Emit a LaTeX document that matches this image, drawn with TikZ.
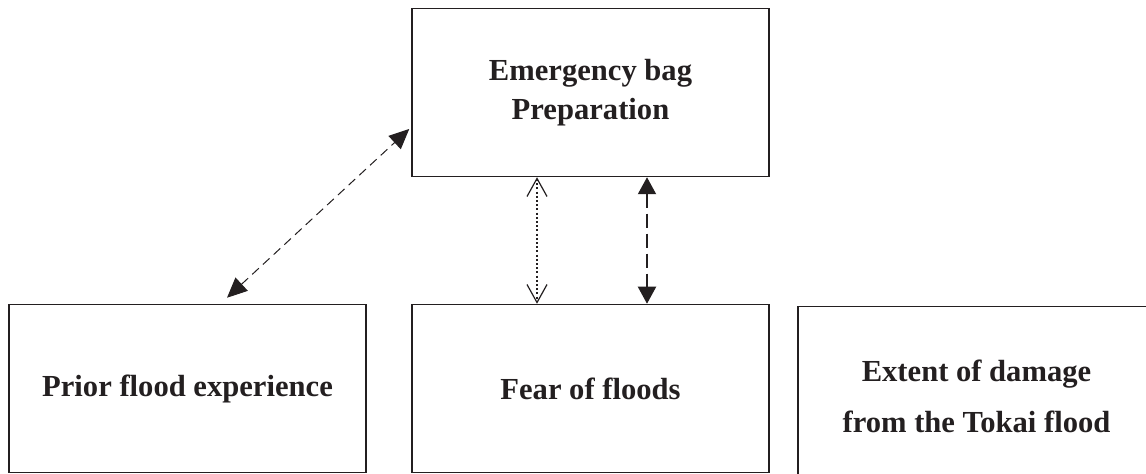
\documentclass[tikz,border=0pt]{standalone}
\usepackage{fontspec}
\setmainfont{Liberation Serif}
\usepackage{tikz}
\usetikzlibrary{arrows.meta,calc,positioning}

\definecolor{ink}{RGB}{35,31,32}

\begin{document}
\begin{tikzpicture}[node distance=150pt,on grid,
    block/.style={draw=ink,line width=0.75pt,rectangle,minimum width=178.5pt,
      minimum height=84pt,align=center,text=ink,
      font=\fontsize{15.3}{19.5}\selectfont\bfseries},
    twoway/.style={ink,line width=0.5pt,dash pattern=on 4.5pt off 2.8pt,
      {Triangle[length=10pt,width=9pt]}-{Triangle[length=10pt,width=9pt]}},
    dotlink/.style={ink,line width=0.6pt,dash pattern=on 1pt off 1.1pt,
      {Straight Barb[length=9pt,width=10pt]}-{Straight Barb[length=9pt,width=10pt]}},
    dashlink/.style={ink,line width=1pt,dash pattern=on 7pt off 3pt,
      {Triangle[length=8.5pt,width=9pt]}-{Triangle[length=8.5pt,width=9pt]}}]
      \useasboundingbox (0,0) rectangle (573pt,-237pt);
      \clip (0,0) rectangle (573pt,-237pt);

      \node[block] (prep) at (295.25pt,-46.25pt) {Emergency bag\\Preparation};
      \node[block] (fear) [below= 148pt of prep] {Fear of floods};
      \node[block] (prior) [left= 201.5pt of fear] {Prior flood experience};
      \node[block,anchor=north,minimum height=90pt] (damage)
        at ([xshift=193pt,yshift=-1pt]fear.north)
        {Extent of damage\\[6pt]from the Tokai flood};

      \draw[twoway] ([xshift=19.75pt,yshift=3pt]prior.north)
        -- ([xshift=-1pt,yshift=-18.25pt]prep.west);
      \draw[dotlink] ([xshift=-26.75pt]prep.south) -- ([xshift=-26.75pt]fear.north);
      \draw[dashlink] ([xshift=28.25pt]prep.south) -- ([xshift=28.25pt]fear.north);
    \end{tikzpicture}
\end{document}
